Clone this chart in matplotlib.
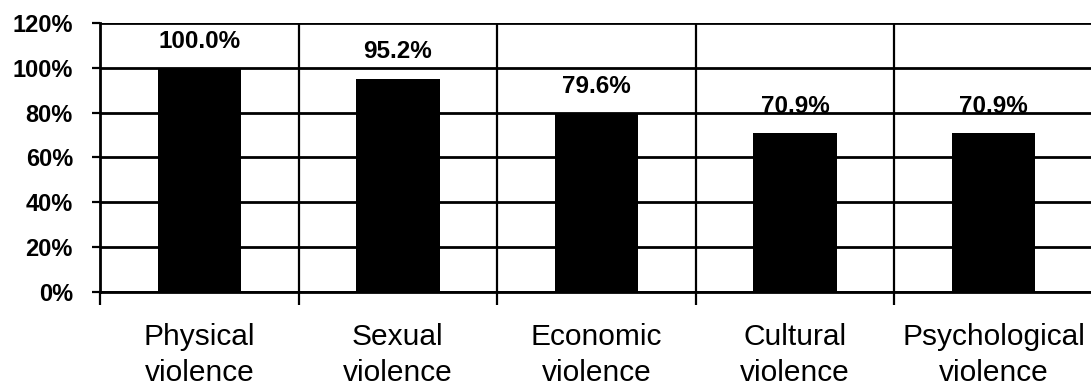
import numpy as np
import matplotlib
matplotlib.use("Agg")
import matplotlib.pyplot as plt

# Data
categories = ["Physical\nviolence", "Sexual\nviolence", "Economic\nviolence",
              "Cultural\nviolence", "Psychological\nviolence"]
values = [100.0, 95.2, 79.6, 70.9, 70.9]
y_ticks = [0, 20, 40, 60, 80, 100, 120]

plt.rcParams["font.family"] = ["Liberation Sans", "DejaVu Sans"]

fig = plt.figure(figsize=(10.91, 3.87), dpi=100)
ax = fig.add_axes([100 / 1091, 1 - 292 / 387, 993 / 1091, 269 / 387])

x = np.arange(len(categories))
ax.bar(x, values, width=0.42, color="black", zorder=3)

# value labels above bars (grid lines run over them, as in the original)
for xi, v in zip(x, values):
    ax.annotate(f"{v:.1f}%", (xi, v), xytext=(0, 14.5), textcoords="offset points",
                ha="center", va="baseline", fontsize=17.5, fontweight="bold", zorder=0.5)

ax.set_xlim(-0.5, len(categories) - 0.5)
ax.set_ylim(0, 120)

# horizontal grid lines
ax.set_yticks(y_ticks)
ax.set_yticklabels([f"{t}%" for t in y_ticks], fontsize=17, fontweight="bold")
ax.yaxis.grid(True, color="black", linewidth=2.0, zorder=1)

# vertical separators between categories
bounds = np.arange(len(categories) + 1) - 0.5
for b in bounds[1:-1]:
    ax.axvline(b, color="black", linewidth=1.6, zorder=1)
ax.set_xticks(bounds, minor=True)
ax.tick_params(axis="x", which="minor", length=9, width=1.6, color="black")
ax.set_xticks(x)
ax.set_xticklabels(categories, fontsize=21.5, linespacing=1.4)
ax.tick_params(axis="x", which="major", length=0, pad=22)
ax.tick_params(axis="y", length=6, width=1.6, pad=13.5)

for s in ["top", "right"]:
    ax.spines[s].set_visible(False)
ax.spines["left"].set_linewidth(2.0)
ax.spines["bottom"].set_linewidth(2.0)

fig.savefig("out.png", dpi=100)
